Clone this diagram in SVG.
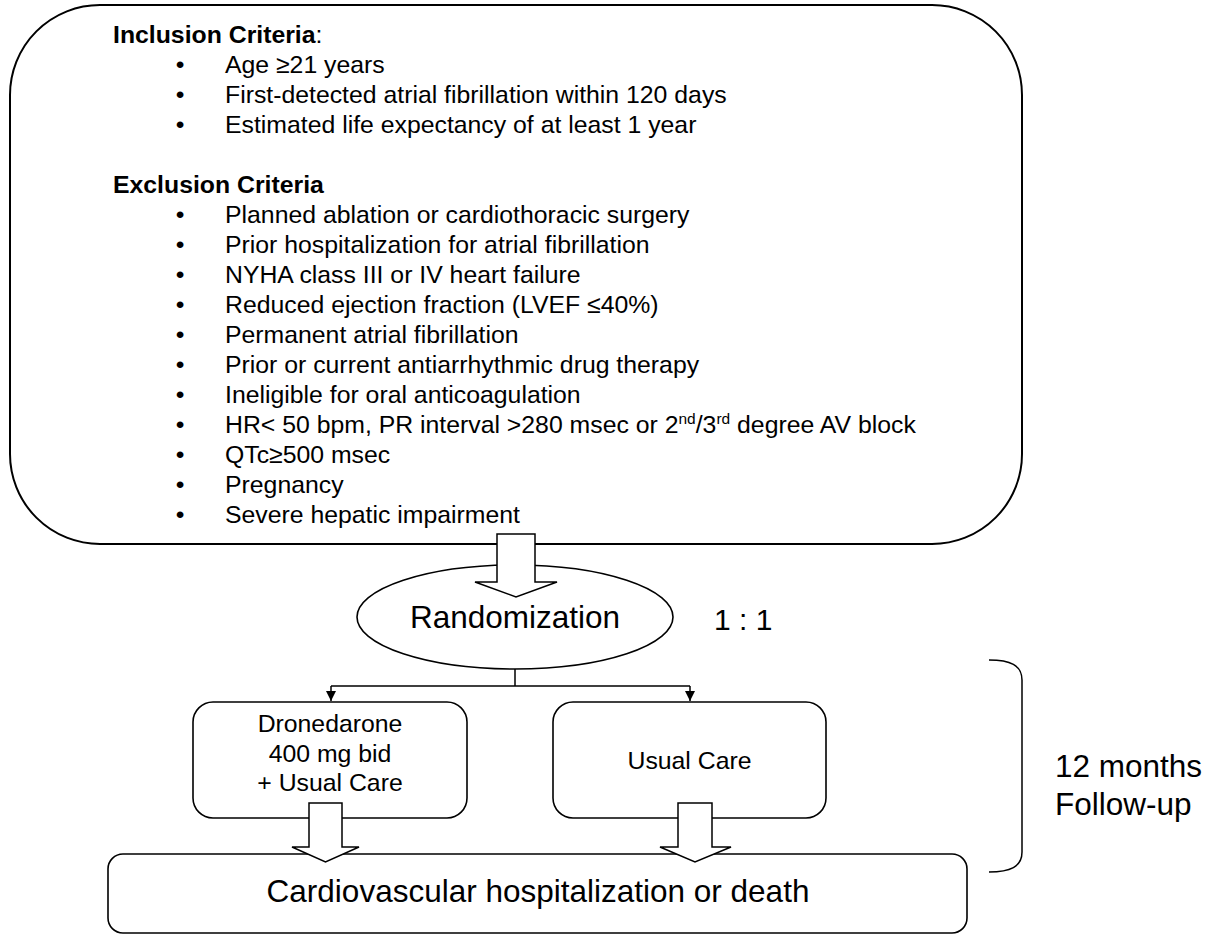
<svg xmlns="http://www.w3.org/2000/svg" width="1213" height="935" viewBox="0 0 1213 935">
<defs>
<style>
text{font-family:"Liberation Sans",Arial,Helvetica,sans-serif;fill:#000}
.t{font-size:24.8px}
.b{font-weight:bold}
.big{font-size:31.5px}
.m{text-anchor:middle}
.box{fill:#fff;stroke:#000;stroke-width:1.6}
.blk{fill:none;stroke:#000;stroke-width:1.5}
.fat{fill:#fff;stroke:#000;stroke-width:1.5;stroke-linejoin:miter}
</style>
<marker id="ah" viewBox="0 0 10 10" refX="10" refY="5" markerWidth="10" markerHeight="10" markerUnits="userSpaceOnUse" orient="auto">
<path d="M0,0 L10,5 L0,10 z" fill="#000"/>
</marker>
</defs>
<rect width="1213" height="935" fill="#fff"/>

<g id="criteria">
<rect class="box" x="10" y="5" width="1012" height="539" rx="90" ry="90" style="stroke-width:2"/>
<text class="t b" x="113" y="43">Inclusion Criteria<tspan font-weight="normal">:</tspan></text>
<text class="t m" x="180" y="73">•</text><text class="t" x="225" y="73">Age ≥21 years</text>
<text class="t m" x="180" y="103">•</text><text class="t" x="225" y="103">First-detected atrial fibrillation within 120 days</text>
<text class="t m" x="180" y="133">•</text><text class="t" x="225" y="133">Estimated life expectancy of at least 1 year</text>
<text class="t b" x="113" y="193">Exclusion Criteria</text>
<text class="t m" x="180" y="223">•</text><text class="t" x="225" y="223">Planned ablation or cardiothoracic surgery</text>
<text class="t m" x="180" y="253">•</text><text class="t" x="225" y="253">Prior hospitalization for atrial fibrillation</text>
<text class="t m" x="180" y="283">•</text><text class="t" x="225" y="283">NYHA class III or IV heart failure</text>
<text class="t m" x="180" y="313">•</text><text class="t" x="225" y="313">Reduced ejection fraction (LVEF ≤40%)</text>
<text class="t m" x="180" y="343">•</text><text class="t" x="225" y="343">Permanent atrial fibrillation</text>
<text class="t m" x="180" y="373">•</text><text class="t" x="225" y="373">Prior or current antiarrhythmic drug therapy</text>
<text class="t m" x="180" y="403">•</text><text class="t" x="225" y="403">Ineligible for oral anticoagulation</text>
<text class="t m" x="180" y="433">•</text><text class="t" x="225" y="433">HR&lt; 50 bpm, PR interval &gt;280 msec or 2<tspan font-size="15.5" dy="-9">nd</tspan><tspan dy="9">/3</tspan><tspan font-size="15.5" dy="-9">rd</tspan><tspan dy="9"> degree AV block</tspan></text>
<text class="t m" x="180" y="463">•</text><text class="t" x="225" y="463">QTc≥500 msec</text>
<text class="t m" x="180" y="493">•</text><text class="t" x="225" y="493">Pregnancy</text>
<text class="t m" x="180" y="523">•</text><text class="t" x="225" y="523">Severe hepatic impairment</text>
</g>

<g id="randomization">
<ellipse class="box" cx="515" cy="617" rx="158" ry="52"/>
<text class="big m" x="515" y="628">Randomization</text>
</g>

<g id="ratio">
<text class="big" x="714" y="630" style="font-size:30px">1 : 1</text>
</g>

<g id="dronedarone">
<rect class="box" x="193" y="702" width="274" height="116" rx="20" ry="20"/>
<text class="t m" x="330" y="732">Dronedarone</text>
<text class="t m" x="330" y="762">400 mg bid</text>
<text class="t m" x="330" y="791">+ Usual Care</text>
</g>

<g id="usualcare">
<rect class="box" x="553" y="702" width="273" height="116" rx="20" ry="20"/>
<text class="t m" x="689.5" y="769">Usual Care</text>
</g>

<g id="outcome">
<rect class="box" x="108" y="854" width="859" height="79" rx="15" ry="15"/>
<text class="big m" x="538" y="902">Cardiovascular hospitalization or death</text>
</g>

<g id="followup">
<path class="blk" d="M989,660 C1010,660 1022,665 1022,680 L1022,852 C1022,867 1010,872 989,872"/>
<text class="big" x="1055" y="777">12 months</text>
<text class="big" x="1055" y="815">Follow-up</text>
</g>

<g id="connectors">
<path class="fat" d="M497,534 L535,534 L535,582 L557,582 L516,597 L475,582 L497,582 Z"/>
<path class="blk" d="M515,669 L515,686 M331,686 L690,686"/>
<path class="blk" d="M331,686 L331,701" marker-end="url(#ah)"/>
<path class="blk" d="M690,686 L690,701" marker-end="url(#ah)"/>
<path class="fat" d="M309,803 L342,803 L342,847 L359,847 L325.5,862 L292,847 L309,847 Z"/>
<path class="fat" d="M678,803 L712,803 L712,847 L731,847 L695,862 L660,847 L678,847 Z"/>
</g>
</svg>
